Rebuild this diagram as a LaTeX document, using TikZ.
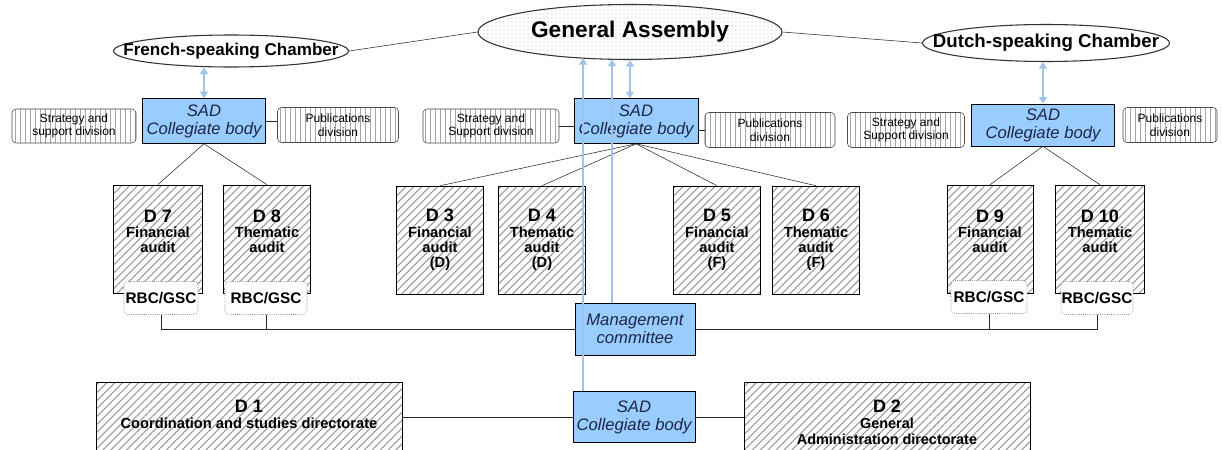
\documentclass[tikz,border=0pt]{standalone}
\usepackage{fontspec}
\setmainfont{Liberation Sans}
\usetikzlibrary{patterns.meta,shapes.geometric,arrows.meta}

\definecolor{sadblue}{RGB}{153,204,255}
\definecolor{flowblue}{RGB}{160,196,232}
\definecolor{sadtext}{RGB}{30,38,70}

\begin{document}
\begin{tikzpicture}[x=0.75pt,y=-0.75pt,
  sz/.style 2 args={minimum width=#1*0.75pt,minimum height=#2*0.75pt,inner sep=0pt},
  chamber/.style 2 args={ellipse,draw=black!80,line width=0.8pt,sz={#1}{#2}},
  sad/.style 2 args={rectangle,draw,fill=sadblue,sz={#1}{#2},align=center,text=sadtext,
    font=\itshape\fontsize{12.5}{13.5}\selectfont},
  divn/.style 2 args={rectangle,draw=black!70,rounded corners=3pt,sz={#1}{#2},align=center,
    pattern={Lines[angle=90,distance=3.75pt,line width=0.6pt]},pattern color=black!35,
    font=\fontsize{9}{10.2}\selectfont},
  dir/.style 2 args={rectangle,draw,sz={#1}{#2},align=center,
    pattern={Lines[angle=45,distance=4.2pt,line width=0.8pt]},pattern color=black!40,
    font=\bfseries\fontsize{11}{11.5}\selectfont},
  rbc/.style 2 args={rectangle,draw=black!60,densely dotted,rounded corners=3pt,fill=white,
    sz={#1}{#2},font=\bfseries\fontsize{11.5}{13}\selectfont},
  link/.style={draw,black!85},
  duplex/.style={flowblue,line width=1.2pt,{Triangle[width=6pt,length=5pt]}-{Triangle[width=6pt,length=5pt]}},
  upflow/.style={flowblue,line width=0.9pt,-{Triangle[width=6pt,length=5pt]}}]

\fill[white] (0,0) rectangle (1222,450);
\useasboundingbox (0,0) rectangle (1222,450);
\clip (0,0) rectangle (1222,450);

% assembly and chambers
\node[chamber={304}{55},pattern={Dots[distance=3pt,radius=0.45pt]},pattern color=gray!60,
  font=\bfseries\fontsize{17}{19}\selectfont] (ga) at (630,32) {General Assembly};
\node[chamber={235}{32},fill=white] (fr) at (231,51) {};
\node[font=\bfseries\fontsize{12.8}{14}\selectfont] (frtxt) at (fr) {French-speaking Chamber};
\node[chamber={247}{37},fill=white] (nl) at (1046,43) {};
\node[font=\bfseries\fontsize{14}{15}\selectfont] (nltxt) at (nl) {Dutch-speaking Chamber};
\draw[link] (fr.east) -- (ga.west);
\draw[link] (ga.east) -- (nl.west);

% collegiate bodies and divisions
\node[sad={123}{45}] (sadL) at (204,121) {SAD\\Collegiate body};
\node[divn={124}{34}] (strL) at (74,126) {Strategy and\\support division};
\node[divn={121}{35}] (pubL) at (338,125) {Publications\\division};
\node[sad={124}{45}] (sadC) at (636,121) {SAD\\Collegiate body};
\node[divn={136}{34}] (strC) at (491,126) {Strategy and\\Support division};
\node[divn={130}{35}] (pubC) at (770,130) {Publications\\division};
\node[sad={143}{42}] (sadR) at (1043,125) {SAD\\Collegiate body};
\node[divn={117}{35}] (strR) at (906,130) {Strategy and\\Support division};
\node[divn={94}{35}] (pubR) at (1170,125) {Publications\\division};

\draw[link] (sadL.east) -- (pubL.west |- sadL.east);
\draw[link] (strC.east) -- (sadC.west |- strC.east);
\draw[link] (sadC.east |- pubC.west) -- (pubC.west);

% audit directorates
\foreach \name/\x/\w/\num/\kind in {d7/158/89/7/Financial,d8/267/87/8/Thematic,
    d9/990/86/9/Financial,d10/1100/89/10/Thematic} {
  \node[dir={\w}{108}] (\name) at (\x,239)
    {{\fontsize{13.5}{14.5}\selectfont D \num}\\\kind\\audit\\\mbox{}};
}
\foreach \name/\x/\num/\kind/\lang in {d3/440/3/Financial/D,d4/542/4/Thematic/D,
    d5/717/5/Financial/F,d6/816/6/Thematic/F} {
  \node[dir={87}{108}] (\name) at (\x,240)
    {{\fontsize{13.5}{14.5}\selectfont D \num}\\\kind\\audit\\(\lang)};
}
\foreach \d in {d7,d8} \draw[link] (sadL.south) -- (\d.north);
\foreach \d in {d3,d4,d5,d6} \draw[link] (sadC.south) -- (\d.north);
\foreach \d in {d9,d10} \draw[link] (sadR.south) -- (\d.north);

\node[rbc={74}{33}] (rbc7) at (161,298) {RBC/GSC};
\node[rbc={82}{33}] (rbc8) at (266,298) {RBC/GSC};
\node[rbc={76}{33}] (rbc9) at (989,297) {RBC/GSC};
\node[rbc={72}{33}] (rbc10) at (1097,298) {RBC/GSC};

% management and support
\node[sad={120}{52}] (mgmt) at (635,329) {Management\\committee};
\node[sad={122}{51}] (sadB) at (634,417) {SAD\\Collegiate body};
\node[dir={306}{80},font=\bfseries\fontsize{11}{12}\selectfont] (d1) at (249,422)
  {{\fontsize{13.5}{14.5}\selectfont D 1}\\Coordination and studies directorate\\\mbox{}};
\node[dir={286}{80},font=\bfseries\fontsize{10.8}{12}\selectfont] (d2) at (887,422)
  {{\fontsize{13.5}{14.5}\selectfont D 2}\\General\\Administration directorate};

\draw[link] (rbc7.south) |- (mgmt.west);
\draw[link] (rbc8.south) -- (rbc8.south |- mgmt.west);
\draw[link] (rbc10.south) |- (mgmt.east);
\draw[link] (rbc9.south) -- (rbc9.south |- mgmt.east);
\draw[link] (sadB.west) -- (sadB.west -| d1.east);
\draw[link] (sadB.east) -- (sadB.east -| d2.west);

% reporting arrows
\coordinate (upB) at (583,58);
\coordinate (upM) at (612,59.5);
\draw[upflow] (sadB.north -| upB) -- (upB);
\draw[upflow] (mgmt.north -| upM) -- (upM);
\draw[duplex] (ga.south) -- (ga.south |- sadC.north);
\draw[duplex] (fr.south -| sadL.north) -- (sadL.north);
\draw[duplex] (nl.south -| sadR.north) -- (sadR.north);
\end{tikzpicture}
\end{document}
